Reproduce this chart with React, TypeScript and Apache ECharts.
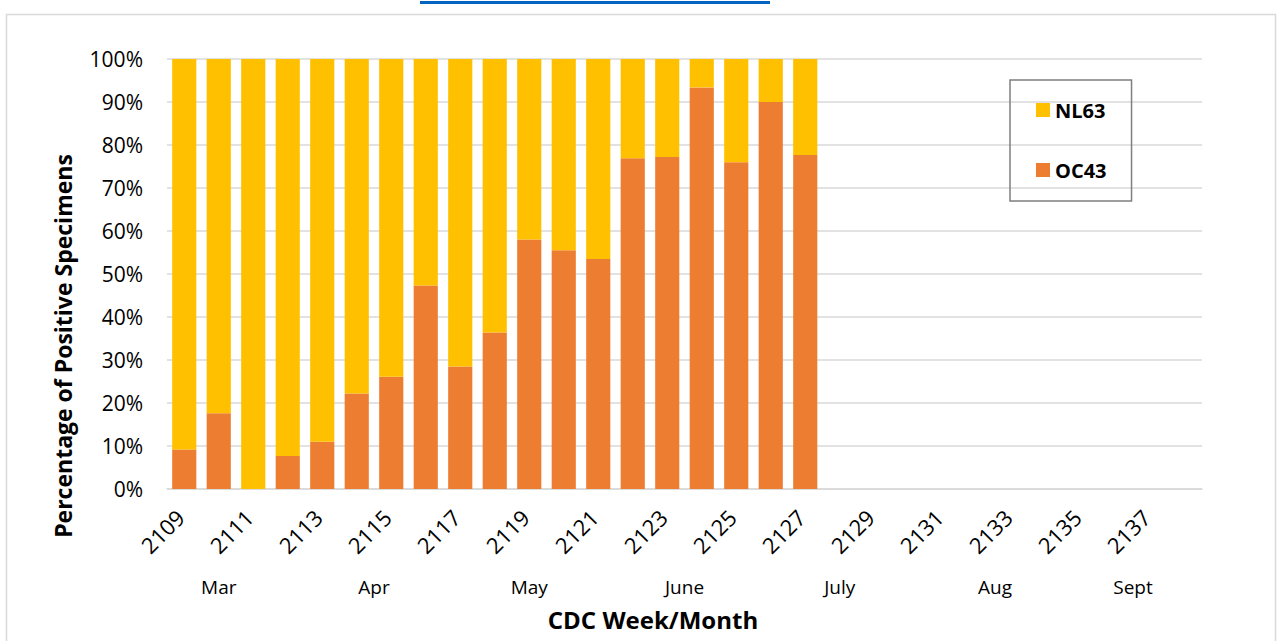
import React, { useEffect, useRef } from "react";
import * as echarts from "echarts";

const weeks = [
  "2109", "2110", "2111", "2112", "2113", "2114", "2115", "2116", "2117", "2118",
  "2119", "2120", "2121", "2122", "2123", "2124", "2125", "2126", "2127", "2128",
  "2129", "2130", "2131", "2132", "2133", "2134", "2135", "2136", "2137", "2138",
];

const oc43 = [
  9.2, 17.6, 0, 7.7, 11.0, 22.2, 26.1, 47.3, 28.5, 36.4,
  58.0, 55.5, 53.5, 76.9, 77.2, 93.4, 76.0, 90.0, 77.7,
  null, null, null, null, null, null, null, null, null, null, null,
];

const nl63 = [
  90.8, 82.4, 100, 92.3, 89.0, 77.8, 73.9, 52.7, 71.5, 63.6,
  42.0, 44.5, 46.5, 23.1, 22.8, 6.6, 24.0, 10.0, 22.3,
  null, null, null, null, null, null, null, null, null, null, null,
];

const months = ["Mar", "Apr", "May", "June", "July", "Aug", "Sept"];
// positions in half-week steps along the axis (0 = left edge, 60 = right edge)
const monthSlots = [3, 12, 21, 30, 39, 48, 56];

const seriesNames = ["OC43", "NL63"];
const legendOrder = ["NL63", "OC43"];
const colors = { OC43: "#ED7D31", NL63: "#FFC000" };

const FONT = "'Open Sans', sans-serif";

export default function App() {
  const ref = useRef<HTMLDivElement>(null);

  useEffect(() => {
    document.body.style.margin = "0";
    if (!ref.current) return;
    const chart = echarts.init(ref.current, undefined, { renderer: "svg" });

    const monthAxisData: string[] = [];
    for (let j = 0; j <= weeks.length * 2; j++) monthAxisData.push("");
    months.forEach((m, i) => {
      monthAxisData[monthSlots[i]] = m;
    });

    const option = {
      animation: false,
      backgroundColor: "#ffffff",
      textStyle: { fontFamily: FONT },
      grid: { left: 167, right: 76, top: 59, bottom: 152, containLabel: false },
      legend: {
        data: legendOrder,
        orient: "vertical",
        left: 1010,
        top: 80,
        icon: "rect",
        itemWidth: 14,
        itemHeight: 14,
        itemGap: 40,
        padding: [20, 25, 21, 26],
        borderColor: "#7F7F7F",
        borderWidth: 1.5,
        textStyle: { fontSize: 20, fontWeight: "bold", color: "#000", fontFamily: FONT },
      },
      xAxis: [
        {
          type: "category",
          data: weeks,
          position: "bottom",
          axisLine: { show: true, lineStyle: { color: "#D9D9D9", width: 1.5 } },
          axisTick: { show: false },
          axisLabel: {
            interval: 1,
            rotate: 45,
            margin: 20,
            padding: [0, 6, 0, 0],
            fontSize: 22,
            color: "#000",
            fontFamily: FONT,
          },
        },
        {
          type: "category",
          data: monthAxisData,
          position: "bottom",
          boundaryGap: false,
          offset: 80,
          axisLine: { show: false },
          axisTick: { show: false },
          splitLine: { show: false },
          axisLabel: {
            interval: 0,
            margin: 8,
            fontSize: 19,
            color: "#000",
            fontFamily: FONT,
          },
        },
      ],
      yAxis: {
        type: "value",
        min: 0,
        max: 100,
        interval: 10,
        axisLine: { show: false },
        axisTick: { show: false },
        splitLine: { lineStyle: { color: "#D9D9D9", width: 1.5 } },
        axisLabel: {
          formatter: "{value}%",
          margin: 24,
          fontSize: 21,
          color: "#000",
          fontFamily: FONT,
        },
      },
      series: seriesNames.map((name) => ({
        name,
        type: "bar",
        stack: "total",
        xAxisIndex: 0,
        barCategoryGap: "30%",
        itemStyle: { color: (colors as any)[name] },
        data: name === "OC43" ? oc43 : nl63,
      })),
      graphic: [
        {
          type: "rect",
          z: -10,
          shape: { x: 6.5, y: 14.5, width: 1269, height: 700 },
          style: { fill: "none", stroke: "#D9D9D9", lineWidth: 1.5 },
        },
        {
          type: "rect",
          shape: { x: 420, y: 1, width: 350, height: 3 },
          style: { fill: "#0563C1" },
        },
        {
          type: "text",
          x: 63,
          y: 346,
          rotation: Math.PI / 2,
          style: {
            text: "Percentage of Positive Specimens",
            font: `bold 23px ${FONT}`,
            fill: "#000",
            align: "center",
            verticalAlign: "middle",
          },
        },
        {
          type: "text",
          x: 653,
          y: 619,
          style: {
            text: "CDC Week/Month",
            font: `bold 24px ${FONT}`,
            fill: "#000",
            align: "center",
            verticalAlign: "middle",
          },
        },
      ],
    };

    chart.setOption(option as any);
    return () => chart.dispose();
  }, []);

  return (
    <div
      ref={ref}
      style={{ position: "absolute", left: 0, top: 0, width: 1278, height: 641 }}
    />
  );
}
